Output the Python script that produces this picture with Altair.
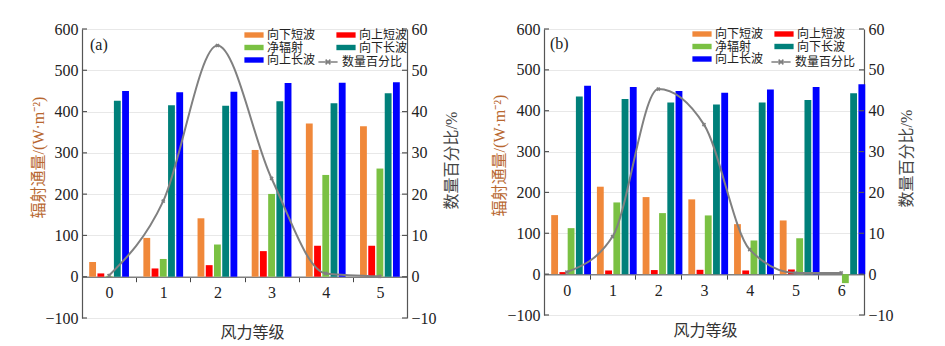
import altair as alt
import pandas as pd

series = ["向下短波", "向上短波", "净辐射", "向下长波", "向上长波"]
colors = ["#F0883A", "#FF0000", "#7AC143", "#00807A", "#0000FF"]
# legend fills column by column: this order gives the reference's rows
legend_order = ["向下短波", "净辐射", "向上长波", "向上短波", "向下长波"]
line_name = "数量百分比"

cats_a = ["0", "1", "2", "3", "4", "5"]
a_down_sw = [35.6, 94, 141.5, 307, 371, 364.6]
a_up_sw = [8, 20, 28, 62, 75, 75]
a_net = [2, 43, 78, 200.5, 246.5, 262]
a_down_lw = [426, 415.5, 414, 425, 420, 444.6]
a_up_lw = [450, 447, 448, 469, 469.7, 471]
a_pct = [0.3, 18.3, 56.0, 23.8, 0.8, 0.1]

cats_b = ["0", "1", "2", "3", "4", "5", "6"]
b_down_sw = [144.5, 214, 188.6, 183, 122.4, 131.4, 0]
b_up_sw = [5, 9, 10, 10.6, 9, 11.4, 0]
b_net = [112.6, 175.5, 149.4, 143.7, 82.4, 88, -22]
b_down_lw = [435, 428.6, 420, 415.5, 420, 426, 443]
b_up_lw = [461, 458, 448, 444, 452, 458, 464.5]
b_pct = [0.5, 9.2, 45.3, 36.6, 6.0, 0.3, 0.3]

left_ticks = [-100, 0, 100, 200, 300, 400, 500, 600]
right_ticks = [-10, 0, 10, 20, 30, 40, 50, 60]

NUM_FONT = "Liberation Serif"
CJK_FONT = "Noto Sans CJK SC"
MIXED = "Liberation Serif, Noto Sans CJK SC"
TXT = "#222222"
AX = "#555555"

color_of = dict(zip(series, colors))


def panel(cats, vals, pct, label, w, h, pi, po, cfg):
    rows = []
    for s, arr in zip(series, vals):
        for c, v in zip(cats, arr):
            rows.append({"cat": c, "series": s, "value": v})
    bars_df = pd.DataFrame(rows)
    line_df = pd.DataFrame({"cat": cats, "pct": pct, "s": [line_name] * len(cats)})

    xenc = alt.X(
        "cat:N",
        sort=cats,
        scale=alt.Scale(paddingInner=0, paddingOuter=0),
        axis=alt.Axis(
            title="风力等级",
            labelAngle=0,
            offset=-h * 100 / 700,
            tickBand="extent",
            domainColor="#808080",
            domainWidth=1.5,
            tickColor="#444444",
            tickSize=5,
            labelPadding=3,
            labelFont=NUM_FONT,
            labelFontSize=16,
            labelColor=TXT,
            titleFont=CJK_FONT,
            titleFontSize=16,
            titleFontWeight="normal",
            titleColor="#333333",
            titleX=cfg["xtx"],
            titleY=56,
            titleAlign="center",
            titleBaseline="middle",
        ),
    )

    lscale = alt.Scale(domain=[-100, 600], nice=False, zero=False)
    rscale = alt.Scale(domain=[-10, 60], nice=False, zero=False)

    laxis = alt.Axis(
        values=left_ticks,
        title="辐射通量/(W·m⁻²)",
        grid=True,
        gridColor="#E8E8E8",
        domainColor=AX,
        domainWidth=1.2,
        ticks=False,
        labelFont=NUM_FONT,
        labelFontSize=16,
        labelColor=TXT,
        labelPadding=4,
        titleFont=MIXED,
        titleFontSize=16,
        titleFontWeight="normal",
        titleColor="#B8672F",
        titleX=cfg["ltx"],
        titleY=cfg["lty"],
        titleAlign="center",
        titleBaseline="middle",
    )
    raxis = alt.Axis(
        orient="right",
        values=right_ticks,
        title="数量百分比/%",
        grid=False,
        domainColor=AX,
        domainWidth=1.2,
        ticks=False,
        labelFont=NUM_FONT,
        labelFontSize=16,
        labelColor=TXT,
        labelPadding=4,
        titleFont=MIXED,
        titleFontSize=16,
        titleFontWeight="normal",
        titleColor="#444444",
        titleAngle=270,
        titleX=cfg["rtx"],
        titleY=cfg["rty"],
        titleAlign="center",
        titleBaseline="middle",
    )

    bars = (
        alt.Chart(bars_df)
        .mark_bar()
        .encode(
            x=xenc,
            xOffset=alt.XOffset(
                "series:N",
                sort=series,
                scale=alt.Scale(domain=series, paddingInner=pi, paddingOuter=po),
            ),
            y=alt.Y("value:Q", scale=lscale, axis=laxis),
            color=alt.Color(
                "series:N",
                scale=alt.Scale(
                    domain=legend_order, range=[color_of[s] for s in legend_order]
                ),
                legend=alt.Legend(
                    title=None,
                    orient="none",
                    legendX=cfg["legx"],
                    legendY=cfg["legy"],
                    columns=2,
                    columnPadding=cfg["colpad"],
                    rowPadding=0.5,
                    symbolType="M-1.6,-0.45H1.6V0.45H-1.6Z",
                    symbolSize=144,
                    symbolStrokeWidth=0,
                    labelFont=CJK_FONT,
                    labelFontSize=12,
                    labelColor=TXT,
                    labelOffset=7,
                ),
            ),
        )
    )
    lticks = (
        alt.Chart(pd.DataFrame({"value": left_ticks}))
        .mark_rule(color=AX, strokeWidth=1.2)
        .encode(y=alt.Y("value:Q", scale=lscale, axis=laxis), x=alt.value(0), x2=alt.value(5))
    )

    xline = alt.X("cat:N", sort=cats)

    line = (
        alt.Chart(line_df)
        .mark_line(interpolate="monotone", strokeWidth=2)
        .encode(
            x=xline,
            y=alt.Y("pct:Q", scale=rscale, axis=raxis),
            stroke=alt.Stroke(
                "s:N",
                scale=alt.Scale(domain=[line_name], range=["#808080"]),
                legend=alt.Legend(
                    title=None,
                    orient="none",
                    legendX=cfg["linex"],
                    legendY=cfg["liney"],
                    symbolType="M-1.6,0H1.6M-0.4,-0.4L0.4,0.4M-0.4,0.4L0.4,-0.4",
                    symbolSize=144,
                    symbolStrokeWidth=1.5,
                    labelFont=CJK_FONT,
                    labelFontSize=12,
                    labelColor=TXT,
                    labelOffset=7,
                ),
            ),
        )
    )
    pts = (
        alt.Chart(line_df)
        .mark_point(shape="cross", angle=45, filled=True, size=18, color="#808080", opacity=1)
        .encode(x=xline, y=alt.Y("pct:Q", scale=rscale, axis=raxis))
    )
    rticks = (
        alt.Chart(pd.DataFrame({"pct": right_ticks}))
        .mark_rule(color=AX, strokeWidth=1.2)
        .encode(
            y=alt.Y("pct:Q", scale=rscale, axis=raxis),
            x=alt.value(w - 5),
            x2=alt.value(w),
        )
    )
    lab = (
        alt.Chart(pd.DataFrame({"t": [label]}))
        .mark_text(font=NUM_FONT, fontSize=16, color=TXT, align="left", baseline="middle")
        .encode(x=alt.value(cfg["labx"]), y=alt.value(cfg["laby"]), text="t:N")
    )

    return (
        alt.layer(alt.layer(bars, lticks), alt.layer(line, pts, rticks), lab)
        .resolve_scale(y="independent")
        .properties(width=w, height=h)
    )


pa = panel(
    cats_a,
    [a_down_sw, a_up_sw, a_net, a_down_lw, a_up_lw],
    a_pct,
    "(a)",
    325,
    289,
    0.17,
    0.875,
    dict(xtx=170, ltx=-44, lty=128, rtx=44, rty=131, legx=166, legy=0, colpad=20,
         linex=239, liney=26, labx=8, laby=16),
)
pb = panel(
    cats_b,
    [b_down_sw, b_up_sw, b_net, b_down_lw, b_up_lw],
    b_pct,
    "(b)",
    320,
    286,
    0.14,
    0.84,
    dict(xtx=161, ltx=-45, lty=126, rtx=42, rty=129, legx=152, legy=-1, colpad=10,
         linex=230, liney=26, labx=6, laby=15),
)

chart = (
    alt.hconcat(pa, pb, spacing=32)
    .resolve_scale(color="independent", stroke="independent", x="independent")
    .resolve_legend(color="independent", stroke="independent")
    .properties(padding={"left": 30, "top": 21, "right": 5, "bottom": 5})
    .configure_view(stroke=None)
)

chart.save("out.html", embed_options={"renderer": "svg", "actions": False})
